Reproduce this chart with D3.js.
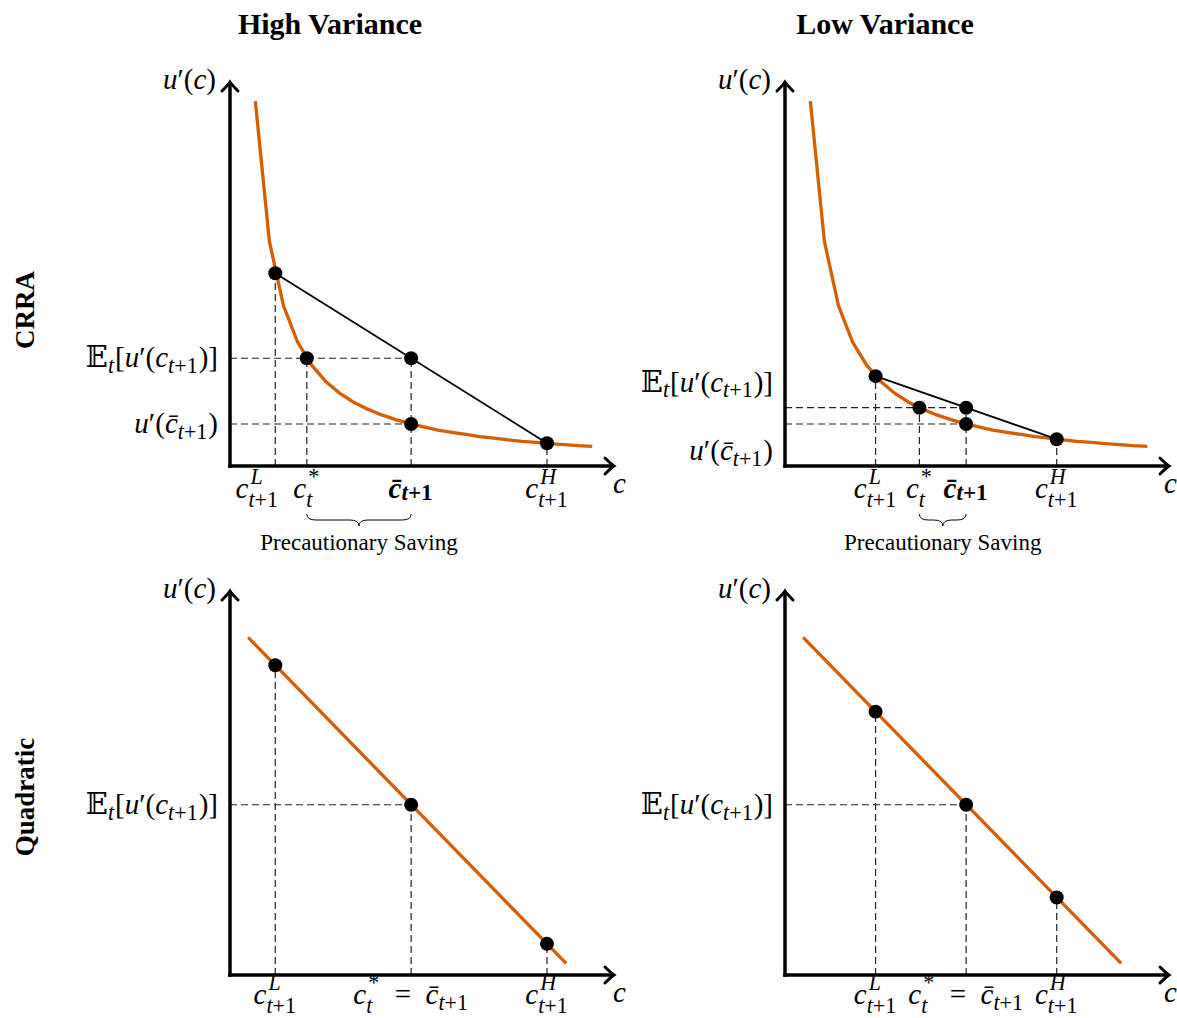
<!DOCTYPE html>
<html>
<head>
<meta charset="utf-8">
<script src="https://cdn.jsdelivr.net/npm/d3@7"></script>
<style>
  body { margin: 0; background: #fff; }
</style>
</head>
<body>
<svg id="chart" width="1177" height="1018"></svg>
<script>
// ---- data (c and u'(c) in axis units) ----
var curveC = [0.7, 1.0875, 1.475, 1.8625, 2.25, 2.6375, 3.025, 3.4125, 3.8, 4.1875, 4.575, 4.9625,
              5.35, 5.7375, 6.125, 6.5125, 6.9, 7.2875, 7.675, 8.0625, 8.45, 8.8375, 9.225, 9.6125, 10.0];
var curveU = [10.07, 6.20, 4.43, 3.43, 2.79, 2.34, 2.01, 1.76, 1.57, 1.41, 1.28, 1.17,
              1.08, 0.99, 0.93, 0.87, 0.81, 0.77, 0.72, 0.68, 0.65, 0.62, 0.59, 0.56, 0.54];
var quadC = [0.5, 9.28];
var quadU = [9.32, 0.32];

// c^L, c-bar, c^H for each column
var highC = [1.25, 5, 8.75];
var lowC = [2.5, 5, 7.5];
// u'(c) at c^L, c-bar, c^H
var crraHighU = [5.32, 1.16, 0.63];
var crraLowU = [2.48, 1.16, 0.74];
var quadHighU = [8.55, 4.70, 0.86];
var quadLowU = [7.27, 4.70, 2.14];
// c*_t on the CRRA curve
var crraStar = [2.12, 3.71];

var colTitles = ["High Variance", "Low Variance"];
var rowTitles = ["CRRA", "Quadratic"];

var ORANGE = "#d55e00";
var MATH_FONT = "'Liberation Serif', 'DejaVu Serif', serif";
var TEXT_FONT = "'Liberation Serif', serif";

var svg = d3.select("#chart");

// little math typesetter: strings are base text, objects are scripts
function mathText(g, x, y, items, opts) {
    opts = opts || {};
    var fs = opts.size || 29;
    var anchor = opts.anchor || "middle";
    var grp = g.append("g");
    var cx = 0;
    function put(str, px, py, size) {
        var t = grp.append("text")
            .attr("x", px).attr("y", py)
            .attr("font-family", MATH_FONT)
            .style("font-size", size + "px")
            .style("white-space", "pre");
        if (opts.bold) t.attr("font-weight", "bold");
        str.match(/[A-Za-z\u0304]+|[^A-Za-z\u0304]+/g).forEach(function (run) {
            t.append("tspan").text(run)
                .attr("font-style", /[A-Za-z]/.test(run) ? "italic" : "normal");
        });
        return t.node().getComputedTextLength();
    }
    items.forEach(function (it) {
        if (typeof it === "string") {
            cx += put(it, cx, 0, fs);
        } else {
            var both = it.sup && it.sub, w1 = 0, w2 = 0;
            var ss = it.size || 0.76;
            if (it.sup) w1 = put(it.sup, cx + 2, -0.48 * fs, fs * ss);
            if (it.sub) w2 = put(it.sub, cx, (it.drop != null ? it.drop : (both ? 0.32 : 0.2)) * fs, fs * ss);
            cx += Math.max(w1 + 2, w2) + 1;
        }
    });
    var dx = anchor === "middle" ? -cx / 2 : anchor === "end" ? -cx : 0;
    grp.attr("transform", "translate(" + (x + dx) + "," + y + ")");
}

var lblEu = ["\uD835\uDD3C", {sub: "t"}, "[u\u2032(c", {sub: "t+1"}, ")]"];
var lblUbar = ["u\u2032(c\u0304", {sub: "t+1"}, ")"];
var lblCL = ["c", {sup: "L", sub: "t+1"}];
var lblCH = ["c", {sup: "H", sub: "t+1"}];
var lblCstar = ["c", {sup: "*", sub: "t"}];
var lblCbar = ["c\u0304", {sub: "t+1", size: 0.8, drop: 0.06}];
var lblCeq = ["c", {sup: "*", sub: "t"}, "  =  c\u0304", {sub: "t+1"}];

function dashed(g, x1, y1, x2, y2) {
    g.append("line")
        .attr("x1", x1).attr("y1", y1).attr("x2", x2).attr("y2", y2)
        .attr("stroke", "#222").attr("stroke-width", 1.2)
        .attr("stroke-dasharray", "7,4");
}

function dot(g, x, y) {
    g.append("circle").attr("cx", x).attr("cy", y).attr("r", 7).attr("fill", "#000");
}

function axes(g, x, y) {
    var x0 = x(0), y0 = y(0), xt = x.range()[1], yt = y.range()[1];
    g.append("line").attr("x1", x0).attr("y1", y0 + 1.75).attr("x2", x0).attr("y2", yt + 1)
        .attr("stroke", "#000").attr("stroke-width", 3.5);
    g.append("line").attr("x1", x0 - 1.75).attr("y1", y0).attr("x2", xt - 1).attr("y2", y0)
        .attr("stroke", "#000").attr("stroke-width", 3.5);
    g.append("path")
        .attr("d", "M" + (xt - 9) + "," + (y0 - 8) + "Q" + (xt - 3) + "," + (y0 - 2) + " " + xt + "," + y0 +
                   "Q" + (xt - 3) + "," + (y0 + 2) + " " + (xt - 9) + "," + (y0 + 8))
        .attr("fill", "none").attr("stroke", "#000").attr("stroke-width", 3).attr("stroke-linecap", "round");
    g.append("path")
        .attr("d", "M" + (x0 - 8) + "," + (yt + 9) + "Q" + (x0 - 2) + "," + (yt + 3) + " " + x0 + "," + yt +
                   "Q" + (x0 + 2) + "," + (yt + 3) + " " + (x0 + 8) + "," + (yt + 9))
        .attr("fill", "none").attr("stroke", "#000").attr("stroke-width", 3).attr("stroke-linecap", "round");
    mathText(g, x0 - 14, yt + 7, ["u\u2032(c)"], {anchor: "end"});
    mathText(g, Math.min(xt - 1, 1164), y0 + 27, ["c"], {anchor: "start"});
}

function brace(g, x1, x2, y0) {
    var h = 12, r = 9, m = (x1 + x2) / 2, yh = y0 + h / 2;
    g.append("path")
        .attr("d", "M" + x1 + "," + y0 + "Q" + x1 + "," + yh + " " + (x1 + r) + "," + yh +
                   "L" + (m - r) + "," + yh + "Q" + m + "," + yh + " " + m + "," + (y0 + h) +
                   "Q" + m + "," + yh + " " + (m + r) + "," + yh +
                   "L" + (x2 - r) + "," + yh + "Q" + x2 + "," + yh + " " + x2 + "," + y0)
        .attr("fill", "none").attr("stroke", "#000").attr("stroke-width", 1);
}

var panelOrigins = [[230, 466], [785, 466], [230, 975], [785, 975]];
var SIZE = 384;

function makeScales(p) {
    var o = panelOrigins[p];
    return {
        x: d3.scaleLinear().domain([0, 10.6]).range([o[0], o[0] + SIZE]),
        y: d3.scaleLinear().domain([0, 10.6]).range([o[1], o[1] - SIZE])
    };
}

var line = d3.line();

// ---- CRRA row ----
[0, 1].forEach(function (col) {
    var s = makeScales(col), x = s.x, y = s.y;
    var g = svg.append("g");
    var cs = col === 0 ? highC : lowC;
    var us = col === 0 ? crraHighU : crraLowU;
    var cStar = crraStar[col];
    var eu = (us[0] + us[2]) / 2;
    var labelShift = col === 0 ? [0, 0] : [-25, 27];
    var cLShift = col === 0 ? -18 : 0;   // keeps c^L clear of c*_t

    dashed(g, x(cs[0]), y(0), x(cs[0]), y(us[0]));
    dashed(g, x(cStar), y(0), x(cStar), y(eu));
    dashed(g, x(cs[1]), y(0), x(cs[1]), y(eu));
    dashed(g, x(cs[2]), y(0), x(cs[2]), y(us[2]));
    dashed(g, x(0), y(eu), x(cs[1]), y(eu));
    dashed(g, x(0), y(us[1]), x(cs[1]), y(us[1]));

    g.append("path")
        .attr("d", line(curveC.map(function (c, i) { return [x(c), y(curveU[i])]; })))
        .attr("fill", "none").attr("stroke", ORANGE).attr("stroke-width", 3.3);
    g.append("line")
        .attr("x1", x(cs[0])).attr("y1", y(us[0])).attr("x2", x(cs[2])).attr("y2", y(us[2]))
        .attr("stroke", "#000").attr("stroke-width", 1.8);

    dot(g, x(cs[0]), y(us[0]));
    dot(g, x(cStar), y(eu));
    dot(g, x(cs[1]), y(eu));
    dot(g, x(cs[1]), y(us[1]));
    dot(g, x(cs[2]), y(us[2]));

    axes(g, x, y);

    mathText(g, x(0) - 12, y(eu) + 9 + labelShift[0], lblEu, {anchor: "end"});
    mathText(g, x(0) - 12, y(us[1]) + 9 + labelShift[1], lblUbar, {anchor: "end"});

    var ty = y(0) + 32;
    mathText(g, x(cs[0]) + cLShift, ty, lblCL);
    mathText(g, x(cStar), ty, lblCstar);
    mathText(g, x(cs[1]), ty, lblCbar, {bold: true});
    mathText(g, x(cs[2]), ty, lblCH);

    brace(g, x(cStar), x(cs[1]), y(0) + 48);
    g.append("text")
        .attr("x", (x(cStar) + x(cs[1])) / 2).attr("y", y(0) + 84)
        .attr("text-anchor", "middle")
        .attr("font-family", TEXT_FONT).style("font-size", "23px")
        .text("Precautionary Saving");
});

// ---- Quadratic row ----
[0, 1].forEach(function (col) {
    var s = makeScales(col + 2), x = s.x, y = s.y;
    var g = svg.append("g");
    var cs = col === 0 ? highC : lowC;
    var us = col === 0 ? quadHighU : quadLowU;

    dashed(g, x(cs[0]), y(0), x(cs[0]), y(us[0]));
    dashed(g, x(cs[1]), y(0), x(cs[1]), y(us[1]));
    dashed(g, x(cs[2]), y(0), x(cs[2]), y(us[2]));
    dashed(g, x(0), y(us[1]), x(cs[1]), y(us[1]));

    g.append("path")
        .attr("d", line(quadC.map(function (c, i) { return [x(c), y(quadU[i])]; })))
        .attr("fill", "none").attr("stroke", ORANGE).attr("stroke-width", 3.3);

    cs.forEach(function (c, i) { dot(g, x(c), y(us[i])); });

    axes(g, x, y);

    mathText(g, x(0) - 12, y(us[1]) + 9, lblEu, {anchor: "end"});
    var ty = y(0) + 29;
    mathText(g, x(cs[0]), ty, lblCL);
    mathText(g, x(cs[1]), ty, lblCeq);
    mathText(g, x(cs[2]), ty, lblCH);
});

// ---- titles ----
colTitles.forEach(function (t, i) {
    svg.append("text")
        .attr("x", panelOrigins[i][0] + 100).attr("y", 34)
        .attr("text-anchor", "middle")
        .attr("font-family", TEXT_FONT).attr("font-weight", "bold")
        .style("font-size", "30px")
        .text(t);
});
rowTitles.forEach(function (t, i) {
    var cy = i === 0 ? 310 : 797;
    svg.append("text")
        .attr("transform", "translate(34," + cy + ") rotate(-90)")
        .attr("text-anchor", "middle")
        .attr("font-family", TEXT_FONT).attr("font-weight", "bold")
        .style("font-size", "27px")
        .text(t);
});
</script>
</body>
</html>
